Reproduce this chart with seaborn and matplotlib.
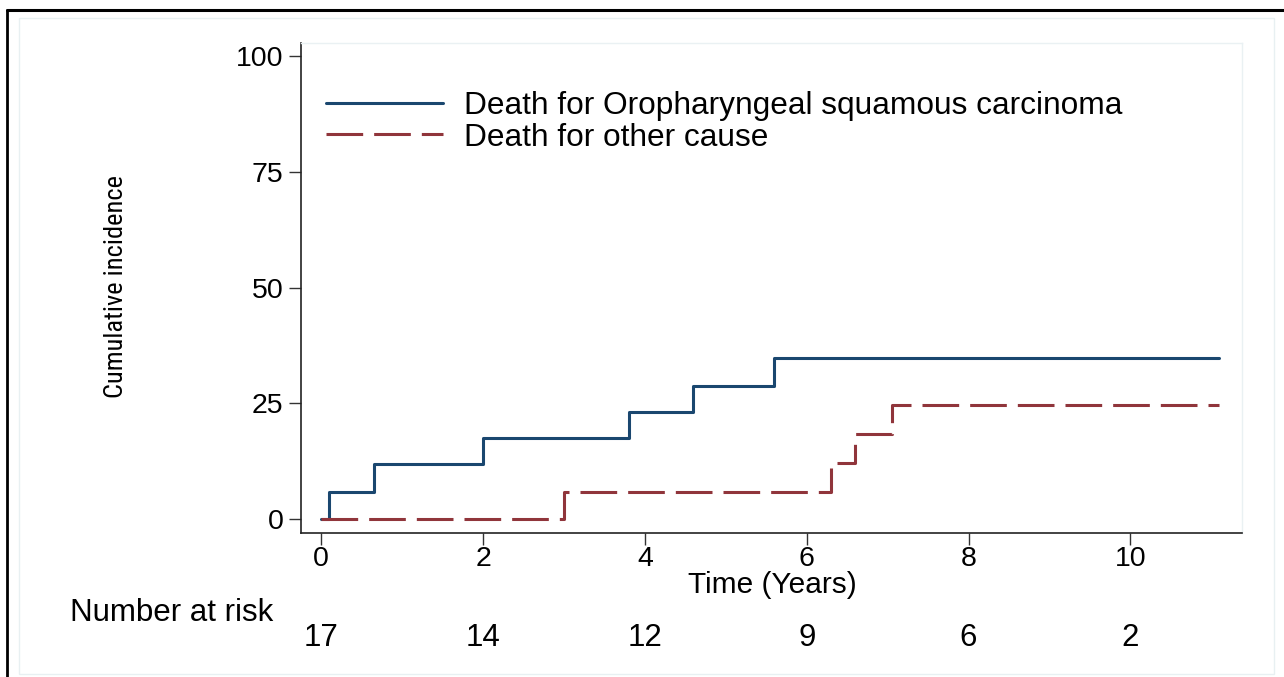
import numpy as np
import pandas as pd
import matplotlib
matplotlib.use("Agg")
import matplotlib.pyplot as plt
import seaborn as sns
from matplotlib.patches import Rectangle
from matplotlib.lines import Line2D

# ---- data ----
cause_labels = ["Death for Oropharyngeal squamous carcinoma", "Death for other cause"]
t_orophar = [0, 0.1, 0.65, 2.0, 3.8, 4.6, 5.6, 11.1]
ci_orophar = [0, 5.9, 11.8, 17.6, 23.1, 28.7, 34.8, 34.8]
t_other = [0, 3.0, 6.3, 6.6, 7.05, 11.1]
ci_other = [0, 5.9, 12.2, 18.3, 24.6, 24.6]
risk_times = [0, 2, 4, 6, 8, 10]
risk_counts = [17, 14, 12, 9, 6, 2]
x_ticks = [0, 2, 4, 6, 8, 10]
y_ticks = [0, 25, 50, 75, 100]

df = pd.concat([
    pd.DataFrame({"time": t_orophar, "ci": ci_orophar, "cause": cause_labels[0]}),
    pd.DataFrame({"time": t_other, "ci": ci_other, "cause": cause_labels[1]}),
])

sns.set_theme(style="white")
plt.rcParams["font.family"] = ["Liberation Sans", "DejaVu Sans"]
plt.rcParams["text.color"] = "black"

blue = "#1a476f"
red = "#90353b"
LW = 2.2
DASH = (12, 3.6)

fig = plt.figure(figsize=(12.84, 6.77), dpi=100)
ax = fig.add_axes([301/1284, 1 - 533/677, (1242-301)/1284, (533-43)/677])

sns.lineplot(data=df, x="time", y="ci", hue="cause", style="cause",
             palette={cause_labels[0]: blue, cause_labels[1]: red},
             dashes={cause_labels[0]: "", cause_labels[1]: DASH},
             drawstyle="steps-post", estimator=None, linewidth=LW,
             ax=ax, legend=False)

ax.set_xlim(-0.25, 11.38)
ax.set_ylim(-3.0, 102.8)
ax.set_xticks(x_ticks)
ax.set_yticks(y_ticks)
ax.tick_params(axis="both", which="major", direction="out", length=8.5, width=1.0,
               color="#333333", labelsize=20.5, pad=4, labelcolor="black")
ax.tick_params(axis="x", pad=0.5)
ax.tick_params(left=True, bottom=True)

for s in ["left", "bottom"]:
    ax.spines[s].set_color("#222222")
    ax.spines[s].set_linewidth(1.2)
for s in ["top", "right"]:
    ax.spines[s].set_color("#eaf1f3")
    ax.spines[s].set_linewidth(1.0)

ax.set_xlabel("")
ax.set_ylabel("")

# legend
handles = [Line2D([], [], color=blue, lw=LW),
           Line2D([], [], color=red, lw=LW, dashes=DASH)]
leg = ax.legend(handles, cause_labels, loc="upper left", frameon=False,
                bbox_to_anchor=((313 - 301) / 941, (533 - 78) / 490),
                fontsize=22.8, handlelength=3.7, handletextpad=0.67,
                labelspacing=0.06, borderaxespad=0)
for t in leg.get_texts():
    t.set_color("black")

# axis labels
fig.text(772/1284, 1 - 593/677, "Time (Years)", ha="center", va="baseline", fontsize=21.5)
fig.text(116/1284, 1 - 287/677, "Cumulative incidence", ha="center", va="center",
         rotation=90, fontsize=19,
         family=["Roboto Condensed", "Liberation Sans"], fontstretch="condensed")

# number at risk
fig.text(70/1284, 1 - 613/677, "Number at risk", ha="left", va="center", fontsize=22.5)
for t, n in zip(risk_times, risk_counts):
    xf = fig.transFigure.inverted().transform(ax.transData.transform((t, 0)))[0]
    fig.text(xf, 1 - 638/677, str(n), ha="center", va="center", fontsize=22.5)

# outer frames
fig.add_artist(Rectangle((19/1284, 1 - 674/677), (1274-19)/1284, (674-18)/677,
                         transform=fig.transFigure, fill=False, ec="#e8f0f2", lw=1.0))
fig.add_artist(Line2D([7/1284, 7/1284], [0, 1 - 10/677], transform=fig.transFigure,
                      color="black", lw=2.0))
fig.add_artist(Line2D([7/1284, 1], [1 - 10/677, 1 - 10/677], transform=fig.transFigure,
                      color="black", lw=2.2))

fig.savefig("out.png", dpi=100, facecolor="white")
